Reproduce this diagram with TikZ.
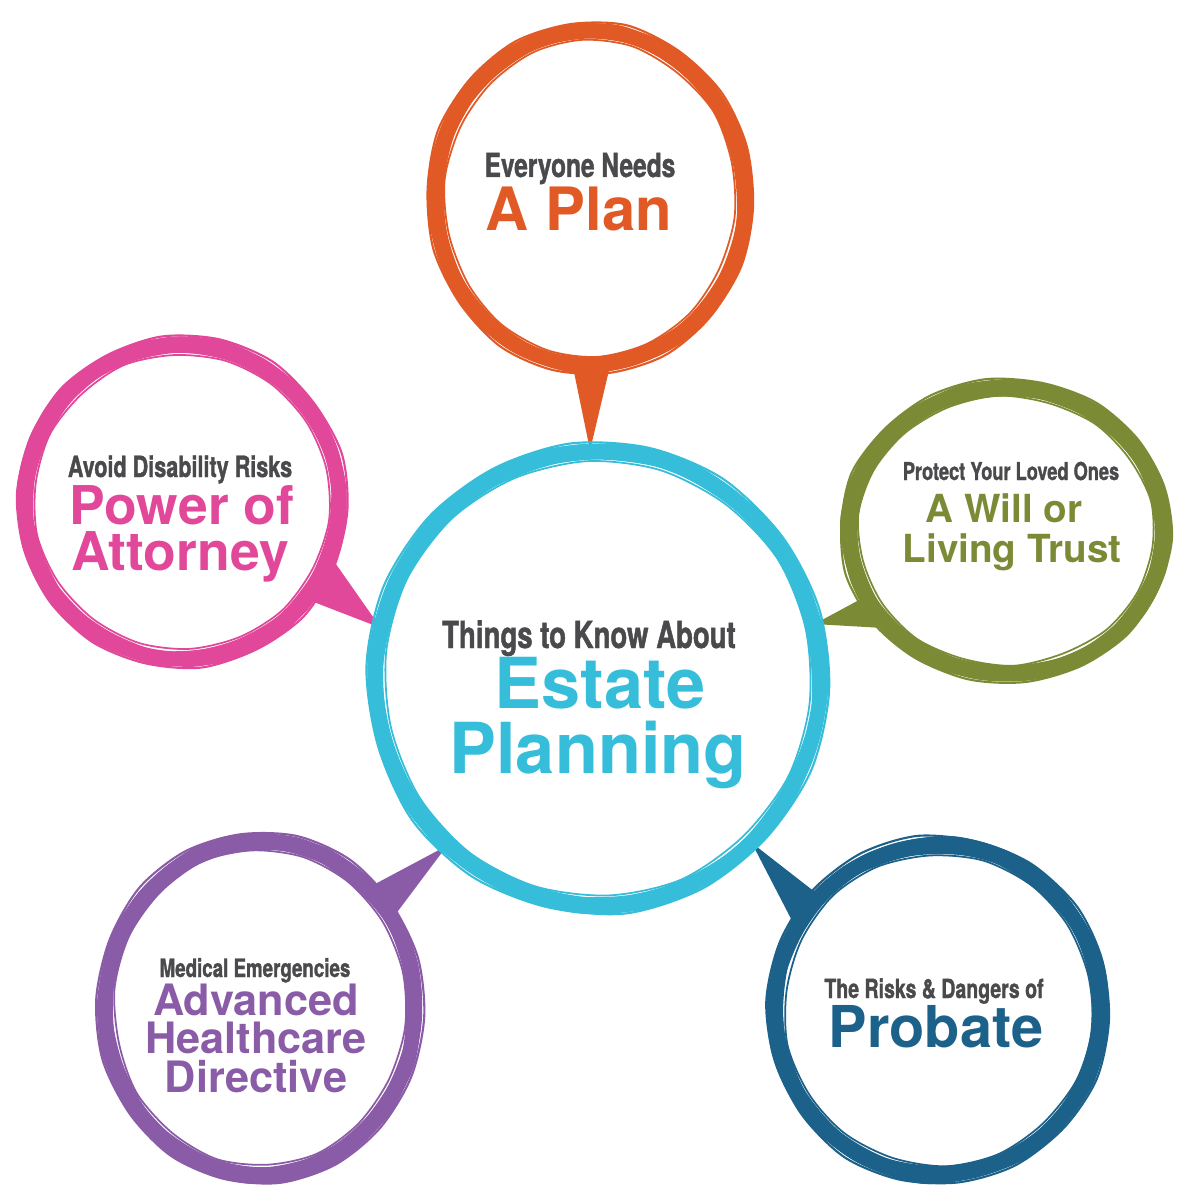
\documentclass[tikz,border=0pt]{standalone}
\usepackage{fontspec}
\usetikzlibrary{shapes.geometric}
\newfontfamily\condfont[FakeStretch=0.74, FakeBold=1.2]{texgyreheros-bold.otf}
\newfontfamily\heavyfont{texgyreheros-bold.otf}
\definecolor{txtgray}{HTML}{4A4A4C}
\definecolor{planorange}{HTML}{E15A26}
\definecolor{hubcyan}{HTML}{35BDD9}
\definecolor{poapink}{HTML}{E2489A}
\definecolor{willgreen}{HTML}{7B8B35}
\definecolor{carepurple}{HTML}{8A5BA6}
\definecolor{probateblue}{HTML}{1C6189}
\tikzset{
  bubble/.style={ellipse, draw=none, inner sep=0pt},
  hdtxt/.style={font=\condfont\fontsize{#1}{#1}\selectfont, text=txtgray, anchor=base, inner sep=0pt},
  bigtxt/.style={font=\heavyfont\fontsize{#1}{#1}\selectfont, anchor=base, inner sep=0pt},
}
% hand-brushed ring: centre x, centre y, radius x, radius y, colour
\newcommand{\brushring}[5]{%
  \foreach \w/\dr/\s in {4.2/0/0, 2.2/4/5, 1/-6/9, 0.6/9/3, 1.6/-3/12, 0.5/-9/7, 1.2/6/15} {
    \draw[#5, line width=\w pt, line join=round]
      plot[smooth cycle, domain=\s:\s+340, samples=18, variable=\a]
      ({#1+(#3+\dr+1.5*rand)*cos(\a)}, {#2+(#4+\dr+1.5*rand)*sin(\a)});
  }
}
\begin{document}
\begin{tikzpicture}[x=0.01cm, y=-0.01cm]
	\useasboundingbox (0,0) rectangle (1197,1197);
	\pgfmathsetseed{7}
	% Bubbles
	\node[bubble, minimum width=4.44cm, minimum height=4.54cm] (hub) at (598,678) {};
	\node[bubble, minimum width=3.10cm, minimum height=3.34cm] (plan) at (590,198) {};
	\node[bubble, minimum width=3.14cm, minimum height=3.14cm] (poa) at (182,502) {};
	\node[bubble, minimum width=3.14cm, minimum height=2.86cm] (will) at (1006,531) {};
	\node[bubble, minimum width=3.10cm, minimum height=3.34cm] (care) at (260,1008) {};
	\node[bubble, minimum width=3.26cm, minimum height=3.30cm] (probate) at (938,1010) {};
	
	% Tails
	\fill[planorange] (plan.-96) -- (hub.92) -- (plan.-83) -- cycle;
	\fill[poapink] (poa.-20) -- (hub.167) -- (poa.-38) -- cycle;
	\fill[willgreen] (will.205) -- (hub.14) -- (will.220) -- cycle;
	\fill[carepurple] (care.48) -- (hub.228) -- (care.34) -- cycle;
	\fill[probateblue] (probate.150) -- (hub.-47) -- (probate.136) -- cycle;
	
	% Rings
	\brushring{590}{198}{155}{167}{planorange}
	\brushring{182}{502}{157}{157}{poapink}
	\brushring{1006}{531}{157}{143}{willgreen}
	\brushring{260}{1008}{155}{167}{carepurple}
	\brushring{938}{1010}{163}{165}{probateblue}
	\brushring{598}{678}{222}{227}{hubcyan}
	
	% Texts
	\node[hdtxt=9.4] (planhead) at (580,177) {Everyone Needs};
	\node[bigtxt=17, text=planorange] (plantitle) at (579,230) {A Plan};
	
	\node[hdtxt=10.6] (hubhead) at (589,648) {Things to Know About};
	\node[bigtxt=20, text=hubcyan] (hubtitle) at (600,708) {Estate};
	\node[bigtxt=20, text=hubcyan] (hubtitlb) at (598,773) {Planning};
	
	\node[hdtxt=8.3] (poahead) at (180,477) {Avoid Disability Risks};
	\node[bigtxt=15.2, text=poapink] (poatitle) at (182,524) {Power of};
	\node[bigtxt=15.2, text=poapink] (poatitlb) at (180,570) {Attorney};
	
	\node[hdtxt=7.0] (willhead) at (1011,480) {Protect Your Loved Ones};
	\node[bigtxt=11, text=willgreen] (willtitle) at (1004,522) {A Will or};
	\node[bigtxt=11, text=willgreen] (willtitlb) at (1012,562) {Living Trust};
	
	\node[hdtxt=7.2] (carehead) at (255,977) {Medical Emergencies};
	\node[bigtxt=12.3, text=carepurple] (caretitle) at (256,1015) {Advanced};
	\node[bigtxt=12.3, text=carepurple] (caretitlb) at (256,1053) {Healthcare};
	\node[bigtxt=12.3, text=carepurple] (caretitlc) at (256,1092) {Directive};
	
	\node[hdtxt=7.5] (probatehead) at (934,998) {The Risks \& Dangers of};
	\node[bigtxt=16.4, text=probateblue] (probatetitle) at (936,1047) {Probate};
\end{tikzpicture}
\end{document}
